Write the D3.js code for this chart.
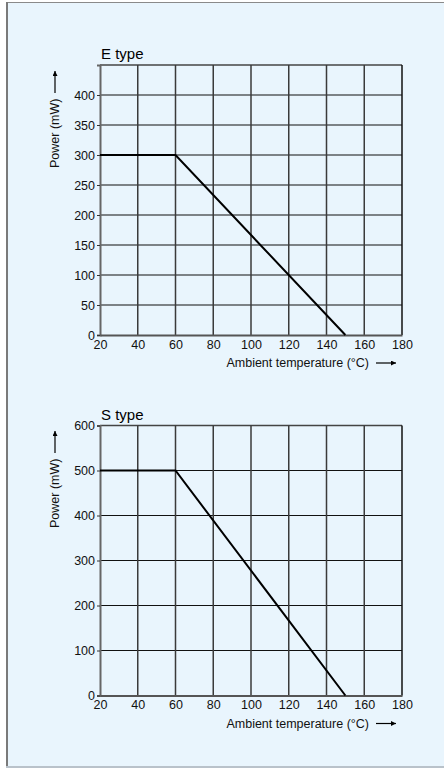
<!DOCTYPE html>
<html><head><meta charset="utf-8">
<script src="https://cdn.jsdelivr.net/npm/d3@7/dist/d3.min.js"></script>
<style>
html,body{margin:0;padding:0;background:#fff;}
svg{display:block;font-family:"Liberation Sans",Arial,Helvetica,sans-serif;}
</style></head>
<body>
<script>
const xTicks = [20, 40, 60, 80, 100, 120, 140, 160, 180];
const eTemps = [20, 60, 150];
const ePower = [300, 300, 0];
const eYTicks = [0, 50, 100, 150, 200, 250, 300, 350, 400];
const sTemps = [20, 60, 150];
const sPower = [500, 500, 0];
const sYTicks = [0, 100, 200, 300, 400, 500, 600];
const titles = ["E type", "S type"];
const yLabel = "Power (mW)";
const xLabel = "Ambient temperature  (°C)";

const W = 444, H = 768;
const FS = 12.5;
const svg = d3.select("body").append("svg").attr("width", W).attr("height", H);

svg.append("rect").attr("x", 6).attr("y", 2).attr("width", W - 6).attr("height", H - 2).attr("fill", "#e9f5fd");
svg.append("line").attr("x1", 6).attr("x2", W).attr("y1", 2.5).attr("y2", 2.5).attr("stroke", "#8a8a8a").attr("stroke-width", 1);
svg.append("line").attr("x1", 7).attr("x2", 7).attr("y1", 2).attr("y2", H).attr("stroke", "#7a7a7a").attr("stroke-width", 2);
svg.append("line").attr("x1", 6).attr("x2", W).attr("y1", 767).attr("y2", 767).attr("stroke", "#b9c2ca").attr("stroke-width", 2);

const defs = svg.append("defs");
defs.append("marker").attr("id", "ah").attr("viewBox", "0 0 10 10").attr("refX", 10).attr("refY", 5)
  .attr("markerWidth", 7).attr("markerHeight", 5).attr("markerUnits", "userSpaceOnUse").attr("orient", "auto")
  .append("path").attr("d", "M0,0L10,5L0,10Z").attr("fill", "#000");

function panel(cfg) {
  const x = d3.scaleLinear().domain([20, 180]).range([100, 402]);
  const y = d3.scaleLinear().domain([0, cfg.ymax]).range([cfg.y0, cfg.y1]);
  const g = svg.append("g");
  g.append("text").attr("x", 101).attr("y", cfg.y1 - 6).attr("font-size", 15).attr("fill", "#000").text(cfg.title);
  const hg = cfg.yticks.filter(v => v > 0);
  g.selectAll(".hg").data(hg).enter().append("line")
    .attr("x1", x(20)).attr("x2", x(180)).attr("y1", d => y(d)).attr("y2", d => y(d))
    .attr("stroke", "#111").attr("stroke-width", 1.2);
  g.append("line").attr("x1", x(20)).attr("x2", x(180)).attr("y1", y(cfg.ymax)).attr("y2", y(cfg.ymax))
    .attr("stroke", "#444").attr("stroke-width", 1.5);
  g.selectAll(".vg").data(xTicks.slice(1, -1)).enter().append("line")
    .attr("x1", d => x(d)).attr("x2", d => x(d)).attr("y1", y(0)).attr("y2", y(cfg.ymax))
    .attr("stroke", "#3a3a3a").attr("stroke-width", 1.5);
  g.append("line").attr("x1", x(180)).attr("x2", x(180)).attr("y1", y(0)).attr("y2", y(cfg.ymax))
    .attr("stroke", "#111").attr("stroke-width", 1.5);
  const ya = d3.axisLeft(y).tickValues(cfg.yticks).tickSize(3).tickPadding(2).tickFormat(d3.format("d"));
  const yg = g.append("g").attr("transform", `translate(${x(20)},0)`).call(ya);
  yg.select(".domain").attr("stroke", "#666").attr("stroke-width", 2);
  yg.selectAll(".tick line").attr("stroke", "#333");
  yg.selectAll("text").attr("font-size", FS).attr("fill", "#111").attr("font-family", "Liberation Sans, Arial, sans-serif");
  const xa = d3.axisBottom(x).tickValues(xTicks).tickSize(0).tickPadding(5);
  const xg = g.append("g").attr("transform", `translate(0,${y(0)})`).call(xa);
  xg.select(".domain").attr("stroke", "#555").attr("stroke-width", 2);
  xg.selectAll("text").attr("font-size", FS).attr("fill", "#111").attr("font-family", "Liberation Sans, Arial, sans-serif");
  const pts = cfg.temps.map((t, i) => [t, cfg.power[i]]);
  g.append("path").datum(pts).attr("fill", "none").attr("stroke", "#000").attr("stroke-width", 2)
    .attr("stroke-linejoin", "miter")
    .attr("d", d3.line().x(d => x(d[0])).y(d => y(d[1])));
  const ylx = 55;
  g.append("text").attr("transform", `translate(${ylx + 4},${cfg.ylabelBottom}) rotate(-90)`)
    .attr("font-size", FS).attr("fill", "#111").text(yLabel);
  g.append("line").attr("x1", ylx).attr("x2", ylx).attr("y1", cfg.ylabelBottom - 75).attr("y2", cfg.ylabelBottom - 97)
    .attr("stroke", "#000").attr("stroke-width", 1.2).attr("marker-end", "url(#ah)");
  const xlY = y(0) + 32;
  g.append("text").attr("x", 369).attr("y", xlY).attr("text-anchor", "end").attr("font-size", FS).attr("fill", "#111").text(xLabel);
  g.append("line").attr("x1", 376).attr("x2", 396).attr("y1", xlY - 4).attr("y2", xlY - 4)
    .attr("stroke", "#000").attr("stroke-width", 1.2).attr("marker-end", "url(#ah)");
}

panel({title: titles[0], ymax: 450, y0: 335, y1: 65, yticks: eYTicks, temps: eTemps, power: ePower, ylabelBottom: 168});
panel({title: titles[1], ymax: 600, y0: 695.5, y1: 425.5, yticks: sYTicks, temps: sTemps, power: sPower, ylabelBottom: 528});
</script>
</body></html>
